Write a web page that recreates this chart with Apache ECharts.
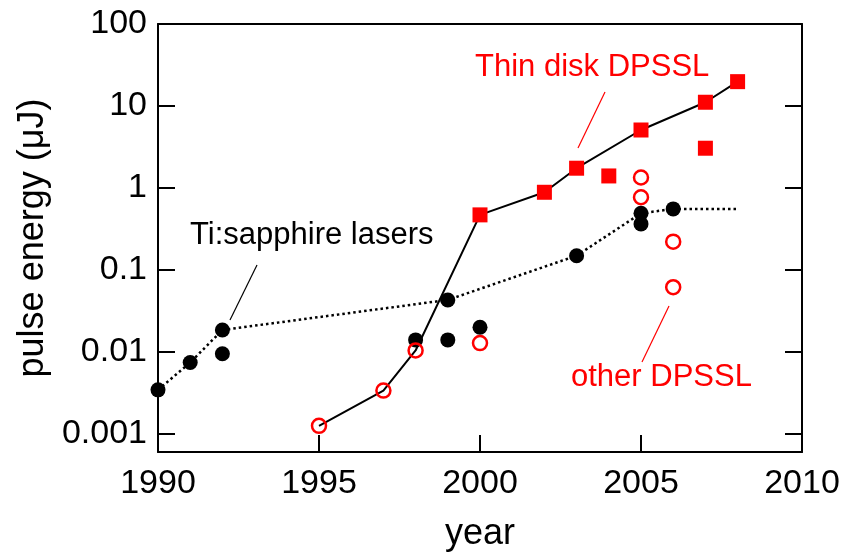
<!DOCTYPE html>
<html>
<head>
<meta charset="utf-8">
<script src="https://cdn.jsdelivr.net/npm/echarts@6/dist/echarts.min.js"></script>
<style>html,body{margin:0;padding:0;background:#fff}#c{width:842px;height:552px}</style>
</head>
<body>
<div id="c"></div>
<script>
// ---- data ----
const tiYears   = [1990, 1991, 1992, 1992, 1998, 1999, 1999, 2000, 2003, 2005, 2005, 2006];
const tiEnergy  = [0.00344, 0.0074, 0.0185, 0.0095, 0.014, 0.043, 0.014, 0.020, 0.149, 0.49, 0.364, 0.555];
const tiTrendYears  = [1990, 1991, 1992, 1999, 2003, 2005, 2006, 2008];
const tiTrendEnergy = [0.00344, 0.0074, 0.0185, 0.043, 0.149, 0.49, 0.555, 0.555];
const diskYears  = [2000, 2002, 2003, 2004, 2005, 2007, 2007, 2008];
const diskEnergy = [0.469, 0.885, 1.74, 1.40, 5.09, 11.1, 3.05, 19.8];
const otherYears  = [1995, 1997, 1998, 2000, 2005, 2005, 2006, 2006];
const otherEnergy = [0.00125, 0.00337, 0.0104, 0.0128, 1.34, 0.77, 0.221, 0.0615];
const dpsslTrendYears  = [1995, 1997, 1998, 2000, 2002, 2003, 2005, 2007, 2008];
const dpsslTrendEnergy = [0.00125, 0.00337, 0.0104, 0.469, 0.885, 1.74, 5.09, 11.1, 19.8];
const yTickValues = [0.001, 0.01, 0.1, 1, 10, 100];
const yTickLabels = ['0.001', '0.01', '0.1', '1', '10', '100'];
const xTickLabels = ['1990', '1995', '2000', '2005', '2010'];

const zip = (a, b) => a.map((v, i) => [v, b[i]]);
const FONT = 'Liberation Sans, Arial, sans-serif';
const RED = '#ff0000';

function yLabel(v) {
  for (let i = 0; i < yTickValues.length; i++) {
    if (Math.abs(Math.log10(v) - Math.log10(yTickValues[i])) < 1e-6) return yTickLabels[i];
  }
  return '';
}

const chart = echarts.init(document.getElementById('c'), null, {renderer: 'canvas'});
const axisLine = {show: true, lineStyle: {color: '#000', width: 2}};
const tickStyle = {show: true, inside: true, length: 17, lineStyle: {color: '#000', width: 2}};

chart.setOption({
  animation: false,
  backgroundColor: '#fff',
  grid: {left: 158, right: 40, top: 24, bottom: 100, containLabel: false, outerBoundsMode: 'none'},
  xAxis: [{
    type: 'value', min: 1990, max: 2010, interval: 5,
    axisLine: axisLine, axisTick: tickStyle, splitLine: {show: false},
    axisLabel: {color: '#000', fontSize: 34, fontFamily: FONT, margin: 15,
      formatter: v => xTickLabels[Math.round((v - 1990) / 5)] || ''},
    name: 'year', nameLocation: 'middle', nameGap: 64,
    nameTextStyle: {color: '#000', fontSize: 36, fontFamily: FONT}
  }, {
    type: 'value', min: 1990, max: 2010, position: 'top',
    axisLine: axisLine, axisTick: {show: false}, axisLabel: {show: false}, splitLine: {show: false}
  }],
  yAxis: [{
    type: 'log', logBase: 10, min: 0.0006, max: 100,
    axisLine: axisLine, axisTick: tickStyle, splitLine: {show: false}, minorTick: {show: false},
    axisLabel: {color: '#000', fontSize: 34, fontFamily: FONT, margin: 11, formatter: yLabel},
    name: 'pulse energy (μJ)', nameLocation: 'middle', nameGap: 107,
    nameTextStyle: {color: '#000', fontSize: 36, fontFamily: FONT}
  }, {
    type: 'log', logBase: 10, min: 0.0006, max: 100, position: 'right',
    axisLine: axisLine, axisTick: tickStyle, splitLine: {show: false},
    axisLabel: {show: false}
  }],
  series: [
    {type: 'line', data: zip(tiTrendYears, tiTrendEnergy), showSymbol: false, symbol: 'none',
     lineStyle: {color: '#000', width: 2.5, type: [2.5, 3]}, z: 1, silent: true},
    {type: 'line', data: zip(dpsslTrendYears, dpsslTrendEnergy), showSymbol: false, symbol: 'none',
     lineStyle: {color: '#000', width: 2}, z: 1, silent: true},
    {type: 'scatter', data: zip(tiYears, tiEnergy), symbol: 'circle', symbolSize: 15,
     itemStyle: {color: '#000', opacity: 1}, z: 2},
    {type: 'scatter', data: zip(otherYears, otherEnergy), symbol: 'circle', symbolSize: 14,
     itemStyle: {color: 'rgba(255,255,255,0)', borderColor: RED, borderWidth: 2.5, opacity: 1}, z: 3},
    {type: 'scatter', data: zip(diskYears, diskEnergy), symbol: 'rect', symbolSize: 15,
     itemStyle: {color: RED, opacity: 1}, z: 4}
  ],
  graphic: [
    {type: 'text', left: 475, top: 52, style: {text: 'Thin disk DPSSL', fill: RED, fontSize: 31, fontFamily: FONT}},
    {type: 'line', shape: {x1: 605, y1: 92, x2: 578, y2: 148}, style: {stroke: RED, lineWidth: 1.2}},
    {type: 'text', left: 190, top: 220, style: {text: 'Ti:sapphire lasers', fill: '#000', fontSize: 31, fontFamily: FONT}},
    {type: 'line', shape: {x1: 257, y1: 265, x2: 230, y2: 320}, style: {stroke: '#000', lineWidth: 1.2}},
    {type: 'text', left: 571, top: 362, style: {text: 'other DPSSL', fill: RED, fontSize: 31, fontFamily: FONT}},
    {type: 'line', shape: {x1: 669, y1: 306, x2: 642, y2: 362}, style: {stroke: RED, lineWidth: 1.2}}
  ]
});
</script>
</body>
</html>
